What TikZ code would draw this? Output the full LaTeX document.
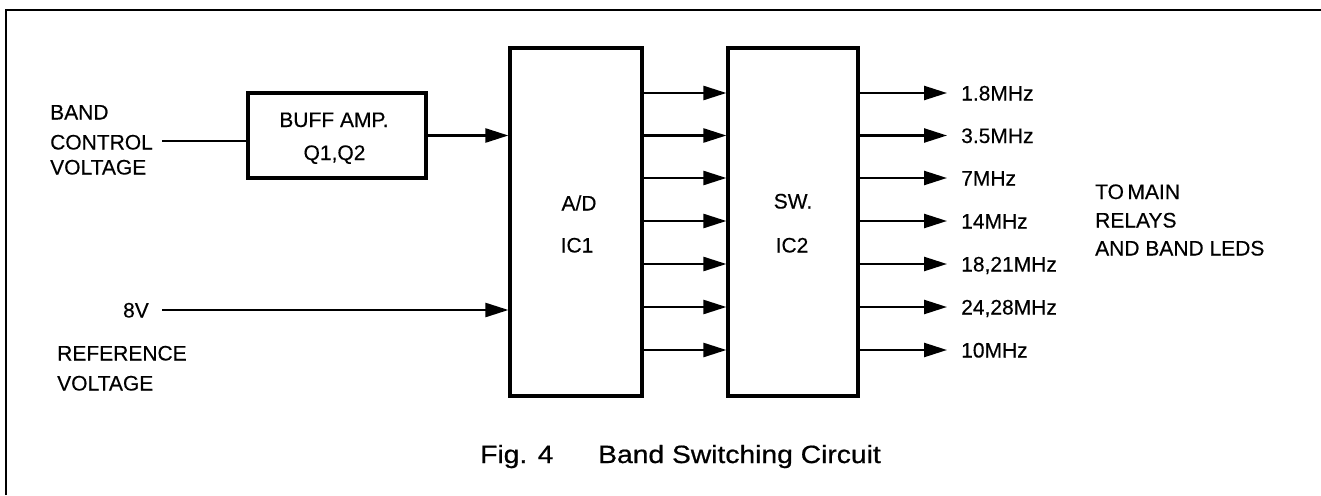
\documentclass[tikz,border=0pt]{standalone}
\usepackage{fontspec}
\setmainfont[FakeBold=0.35]{Liberation Sans}
\newfontfamily\capfont[FakeBold=0.7,FakeStretch=1.13]{Liberation Sans}
\usetikzlibrary{arrows.meta,calc}
\begin{document}
\begin{tikzpicture}[x=1pt,y=-1pt,
  box/.style={draw,line width=3.2pt,inner sep=0pt},
  arr/.style={line width=2.4pt,-{Triangle[length=23pt,width=14pt]}},
  wire/.style={line width=2.4pt},
  lbl/.style={inner sep=0pt,anchor=west,text height=15pt,text depth=0pt,font=\fontsize{21}{25}\selectfont},
  lblr/.style={lbl,anchor=east},
  boxtext/.style={inner sep=0pt,text height=15pt,text depth=0pt,font=\fontsize{21}{25}\selectfont}
]
\useasboundingbox (0,0) rectangle (1321,495);
% frame
\coordinate (fbl) at (6,495);
\coordinate (ftl) at (6,10);
\coordinate (ftr) at (1321,10);
\draw[line width=2pt] (fbl) -- (ftl) -- (ftr);

% boxes
\node[box,minimum width=178pt,minimum height=85pt] (buf) at (337,135.5) {};
\node[boxtext] (buft1) at (334,119.5) {BUFF AMP.};
\node[boxtext] (buft2) at (334.5,152.5) {Q1,Q2};

\node[box,minimum width=132pt,minimum height=348pt] (ad) at (576,222) {};
\node[boxtext] (adt1) at (579,203) {A/D};
\node[boxtext] (adt2) at (577,245) {IC1};

\node[box,minimum width=130pt,minimum height=348pt] (sw) at (793,222) {};
\node[boxtext] (swt1) at (793,201) {SW.};
\node[boxtext] (swt2) at (792,245) {IC2};

% left labels
\node[lbl] (band) at (50,112) {BAND};
\node[lbl] (control) at (50,142) {CONTROL};
\node[lbl] (voltage1) at (50,167) {VOLTAGE};
\node[lblr] (eightv) at (149,310) {8V};
\node[lbl] (ref) at (57,353) {REFERENCE};
\node[lbl] (voltage2) at (57,383) {VOLTAGE};

\coordinate (in1) at (162,141);
\coordinate (in2) at (162,310);
\draw[wire] (in1) -- (buf.west |- in1);
\draw[arr] (buf.east) -- (ad.west |- buf.east);
\draw[arr] (in2) -- (ad.west |- in2);

% rows between IC1 and IC2
\foreach \i/\y in {1/93,2/135.5,3/178,4/221,5/264,6/307,7/350}{
  \coordinate (r\i) at (0,\y);
  \draw[arr] (ad.east |- r\i) -- (sw.west |- r\i);
}

% outputs
\foreach \i/\y/\t in {1/93/1.8MHz,2/135.5/3.5MHz,3/178/7MHz,4/221/14MHz,5/264/{18,21MHz},6/307/{24,28MHz},7/350/10MHz}{
  \node[lbl] (o\i) at (961,\y) {\t};
  \draw[arr] (sw.east |- o\i) -- ([xshift=-14pt]o\i.west);
}

\node[lbl] (to1) at (1095,191.5) {TO\,MAIN};
\node[lbl] (to2) at (1095,220) {RELAYS};
\node[lbl] (to3) at (1095,248) {AND BAND LEDS};

% caption
\node[inner sep=0pt,anchor=base west,font=\capfont\fontsize{25}{30}\selectfont] (cap1) at (480,463) {Fig. 4};
\node[inner sep=0pt,anchor=base west,font=\capfont\fontsize{25}{30}\selectfont] (cap2) at (598,463) {Band Switching Circuit};
\end{tikzpicture}
\end{document}
